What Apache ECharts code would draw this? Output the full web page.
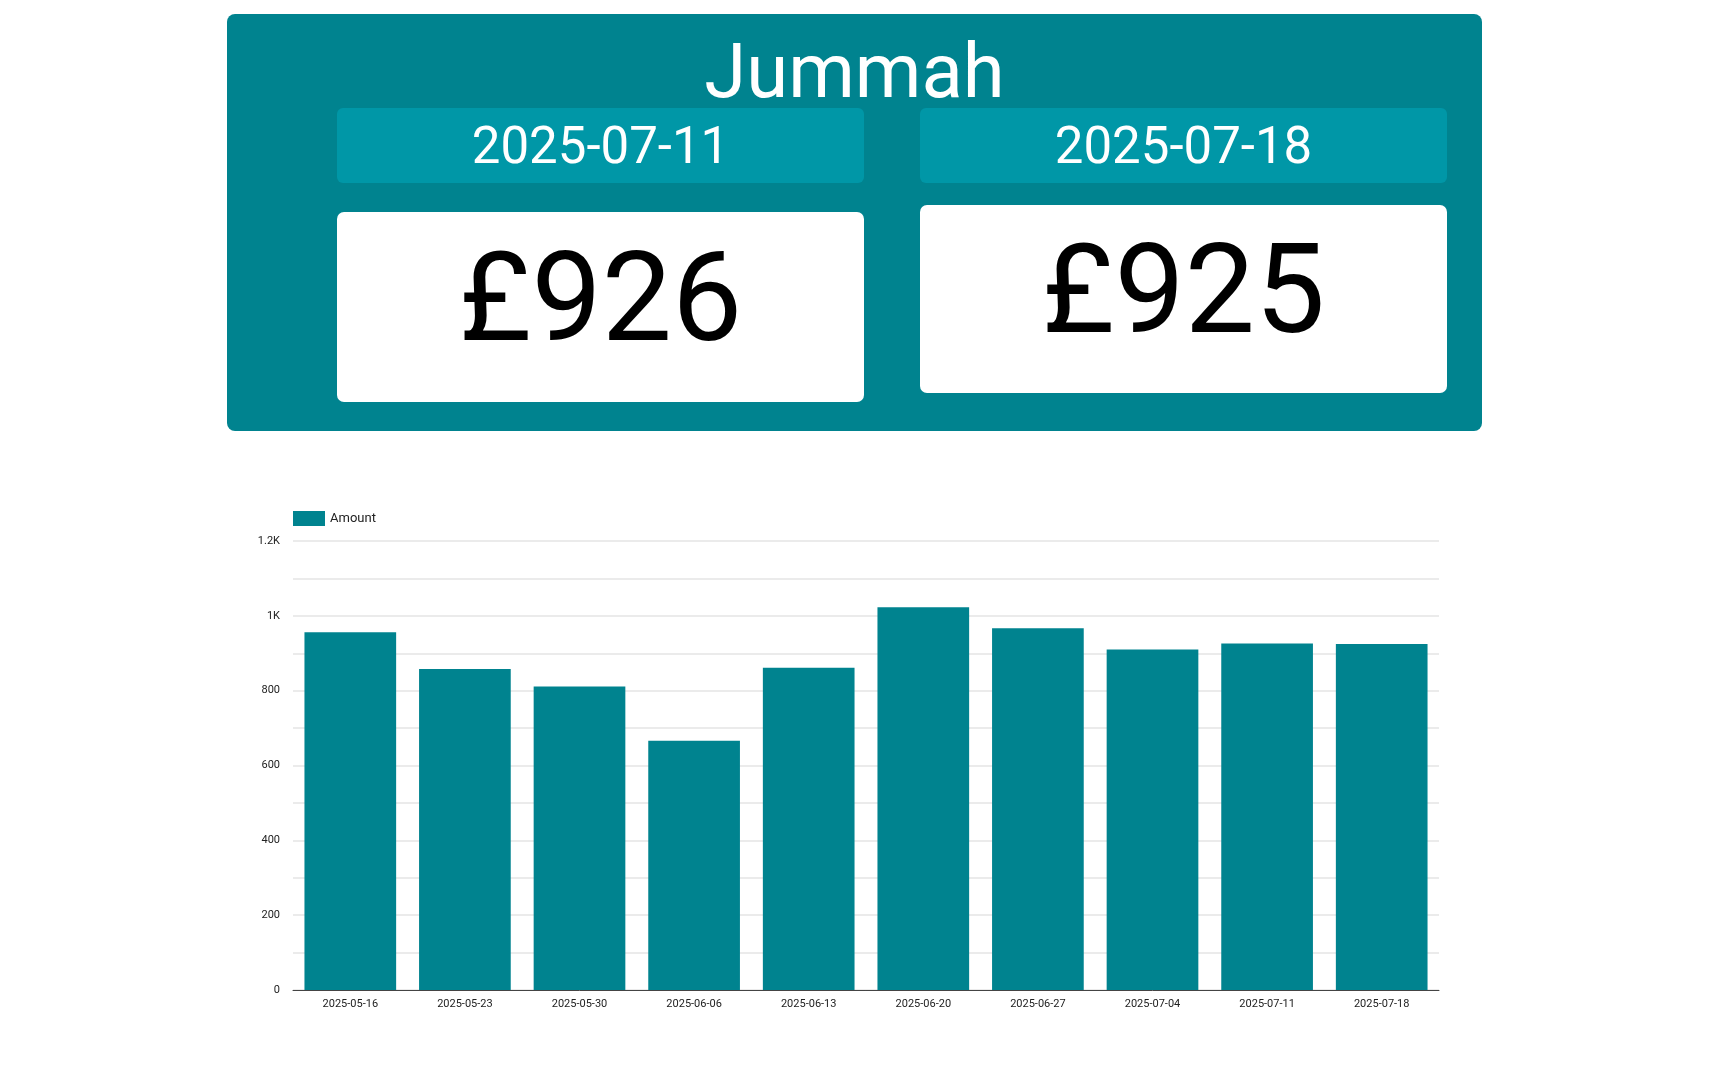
<!DOCTYPE html>
<html>
<head>
<meta charset="utf-8">
<title>Jummah</title>
<script src="https://cdn.jsdelivr.net/npm/echarts@6/dist/echarts.min.js"></script>
<style>
  html, body { margin: 0; padding: 0; background: #fff; font-family: Roboto, "Noto Sans", sans-serif; }
  #main { position: absolute; left: 0; top: 0; width: 1724px; height: 1080px; }
  .panel { position: absolute; left: 227px; top: 14px; width: 1255px; height: 417px; background: #00838f; border-radius: 8px; z-index: 2; }
  .title { position: absolute; left: 0; width: 100%; top: 9px; text-align: center; color: #fff; font-size: 76px; line-height: 96px; }
  .date { position: absolute; width: 527px; height: 75px; top: 94px; background: #0097a7; border-radius: 6px; color: #fff; font-size: 51px; line-height: 75px; text-align: center; }
  .value { position: absolute; width: 527px; background: #fff; border-radius: 7px; color: #000; font-size: 125px; text-align: center; }
</style>
</head>
<body>
<div id="main"></div>
<div class="panel">
  <div class="title">Jummah</div>
  <div class="date" id="d0" style="left:110px"></div>
  <div class="date" id="d1" style="left:693px"></div>
  <div class="value" id="v0" style="left:110px; top:198px; height:190px; line-height:172px"></div>
  <div class="value" id="v1" style="left:693px; top:191px; height:188px; line-height:170px"></div>
</div>
<script>
var dates = ['2025-05-16', '2025-05-23', '2025-05-30', '2025-06-06', '2025-06-13',
             '2025-06-20', '2025-06-27', '2025-07-04', '2025-07-11', '2025-07-18'];
var amounts = [956, 858, 811, 666, 861, 1023, 967, 910, 926, 925];

// last two weeks shown in the cards
var n = dates.length;
document.getElementById('d0').textContent = dates[n - 2];
document.getElementById('d1').textContent = dates[n - 1];
document.getElementById('v0').textContent = '£' + amounts[n - 2];
document.getElementById('v1').textContent = '£' + amounts[n - 1];

var myChart = echarts.init(document.getElementById('main'));

var option = {
    backgroundColor: '#fff',
    textStyle: { fontFamily: 'Roboto' },
    legend: {
        left: 293,
        top: 511,
        padding: 0,
        icon: 'rect',
        itemWidth: 32,
        itemHeight: 15,
        textStyle: { fontSize: 13, color: '#222' },
        data: ['Amount']
    },
    grid: { left: 293, right: 285, top: 541, bottom: 90 },
    xAxis: {
        type: 'category',
        data: dates,
        axisTick: { show: false },
        axisLine: { lineStyle: { color: '#444', width: 1 } },
        axisLabel: { fontSize: 11, color: '#222', margin: 9 }
    },
    yAxis: {
        type: 'value',
        min: 0,
        max: 1200,
        interval: 100,
        axisLine: { show: false },
        axisTick: { show: false },
        axisLabel: {
            fontSize: 11,
            color: '#222',
            margin: 13,
            formatter: function (v) {
                if (v % 200 !== 0) return '';
                return v >= 1000 ? (v / 1000) + 'K' : v;
            }
        },
        splitLine: { lineStyle: { color: '#ebebeb', width: 2 } }
    },
    series: [
        {
            name: 'Amount',
            type: 'bar',
            data: amounts,
            barCategoryGap: '20%',
            itemStyle: { color: '#00838f' }
        }
    ]
};

myChart.setOption(option);
</script>
</body>
</html>
